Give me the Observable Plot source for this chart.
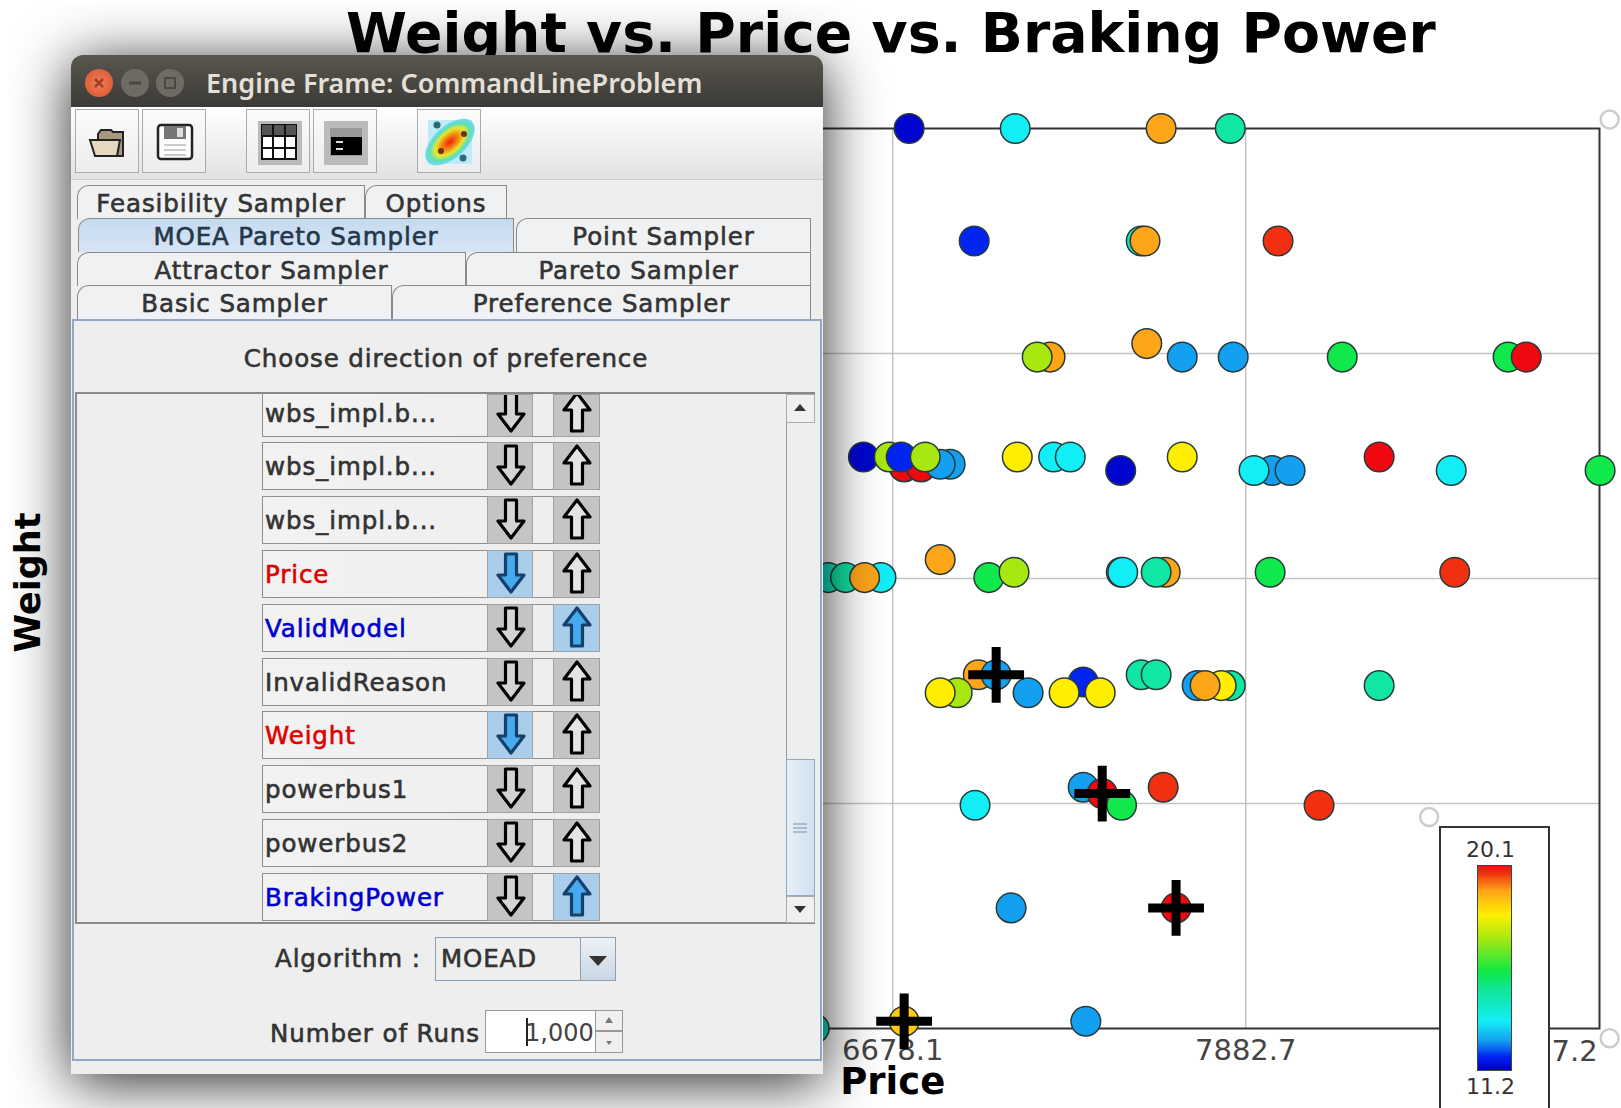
<!DOCTYPE html>
<html>
<head>
<meta charset="utf-8">
<script src="https://cdn.jsdelivr.net/npm/d3@7"></script>
<script src="https://cdn.jsdelivr.net/npm/@observablehq/plot@0.6"></script>
<style>
html,body{margin:0;padding:0;background:#fff;width:1621px;height:1108px;overflow:hidden}
svg{overflow:visible}
.a{position:absolute;box-sizing:border-box}
.t{position:absolute;white-space:nowrap;transform:translate(-50%,-50%);font-family:"DejaVu Sans",sans-serif;color:#333;-webkit-text-stroke:.6px currentColor;letter-spacing:.9px}
.l{transform:translate(0,-50%)}
</style>
</head>
<body>
<script>
// ---- chart data ----
const chartTitle = "Weight vs. Price vs. Braking Power";
const priceTicks = [6678.1, 7882.7];
const priceEndTick = [9087.2];
const weightGrid = [25, 50, 75];
const priceDomain = [5476, 9090];
const weightDomain = [0, 100];
const brakingDomain = [11.2, 20.1];
const jetStops = [11.2, 11.73, 12.45, 13.3, 14.58, 15.47, 16.9, 17.93, 18.94, 19.74, 20.1];
const jetColors = ["#0000c8", "#0020f0", "#14a0f0", "#12eef6", "#10e6a0", "#10e844", "#a8e810", "#ffee00", "#ffa518", "#f03010", "#f00810"];

const prices = [
  6734, 7096, 7594, 7830,
  6956, 7526, 7539, 7993,
  7215, 7171, 7545, 7666, 7840, 8212, 8778, 8840,
  6717, 6775, 6874, 6840, 6578, 6666, 6707, 6789, 7103, 7227, 7284, 7456, 7666, 7973, 7911, 8034, 8338, 8584, 9092,
  6458, 6517, 6638, 6582, 6840, 7006, 7092, 7458, 7463, 7608, 7577, 7966, 8596,
  6970, 7031, 6898, 6840, 7140, 7328, 7263, 7386, 7526, 7577, 7830, 7717, 7799, 7744, 8338,
  6959, 7328, 7393, 7459, 7601, 8133,
  7082, 7645,
  6410, 6717, 7337
];
const weights = [
  100, 100, 100, 100,
  87.5, 87.5, 87.5, 87.5,
  74.6, 74.6, 76.1, 74.6, 74.6, 74.6, 74.6, 74.6,
  62.4, 62.4, 62.7, 62.7, 63.5, 63.5, 63.5, 63.5, 63.5, 63.5, 63.5, 62, 63.5, 62, 62, 62, 63.5, 62, 62,
  50.1, 50.1, 50.1, 50.1, 52.1, 50.1, 50.7, 50.7, 50.7, 50.7, 50.7, 50.7, 50.7,
  39.3, 39.3, 37.3, 37.3, 37.3, 38.5, 37.3, 37.3, 39.3, 39.3, 38.1, 38.1, 38.1, 38.1, 38.1,
  24.8, 26.8, 26.1, 24.8, 26.8, 24.8,
  13.4, 13.4,
  0, 0.8, 0.8
];
const braking = [
  11.3, 13.3, 18.94, 14.5,
  11.75, 14.3, 18.94, 19.74,
  18.94, 16.9, 18.94, 12.45, 12.45, 15.4, 15.4, 20.1,
  20.1, 20.1, 12.45, 12.45, 11.3, 16.9, 11.75, 16.9, 17.93, 13.3, 13.3, 11.3, 17.93, 12.45, 13.3, 12.45, 20.1, 13.3, 15.4,
  14.0, 14.5, 13.3, 18.94, 18.94, 15.4, 16.9, 14.3, 13.3, 18.94, 14.5, 15.4, 19.74,
  18.94, 12.45, 16.9, 17.93, 12.45, 11.75, 17.93, 17.93, 14.5, 14.5, 14.5, 12.45, 17.93, 18.94, 14.5,
  13.3, 12.45, 20.1, 15.4, 19.74, 19.74,
  12.45, 20.1,
  14.0, 18.4, 12.45
];
const selectedPrice = [7031, 7393, 7645, 6717];
const selectedWeight = [39.3, 26.1, 13.4, 0.8];
const handlePrice = [9124.5, 8508.6, 9124.5];
const handleWeight = [101, 23.5, -1.08];

// ---- window texts ----
const windowTitle = "Engine Frame: CommandLineProblem";
const tabNames = ["Feasibility Sampler", "Options", "MOEA Pareto Sampler", "Point Sampler", "Attractor Sampler", "Pareto Sampler", "Basic Sampler", "Preference Sampler"];
const paramNames = ["wbs_impl.b...", "wbs_impl.b...", "wbs_impl.b...", "Price", "ValidModel", "InvalidReason", "Weight", "powerbus1", "powerbus2", "BrakingPower"];
const paramDirection = ["", "", "", "down", "up", "", "down", "", "", "up"];

// ---- main chart ----
const rows = prices.map((p, i) => ({p, w: weights[i], b: braking[i]}));
const selected = selectedPrice.map((p, i) => ({p, w: selectedWeight[i]}));
const handles = handlePrice.map((p, i) => ({p, w: handleWeight[i]}));
const colorScale = {type: "linear", domain: jetStops, range: jetColors};
const F = "DejaVu Sans, sans-serif";

const chart = Plot.plot({
  width: 1621, height: 1108,
  marginLeft: 540, marginRight: 22, marginTop: 128, marginBottom: 80,
  x: {domain: priceDomain, axis: null},
  y: {domain: weightDomain, axis: null},
  color: colorScale,
  style: {position: "absolute", left: 0, top: 0, background: "transparent", maxWidth: "none", fontFamily: F},
  marks: [
    Plot.gridX(priceTicks, {stroke: "#c4c4c4", strokeOpacity: 1, strokeWidth: 1.5}),
    Plot.gridY(weightGrid, {stroke: "#c4c4c4", strokeOpacity: 1, strokeWidth: 1.5}),
    Plot.frame({stroke: "#333", strokeWidth: 2}),
    Plot.axisX({ticks: priceTicks, tickFormat: d => d.toFixed(1), tickSize: 0, tickPadding: 11, fontSize: 29, label: null, fill: "#444"}),
    Plot.text(priceEndTick, {x: d => d, frameAnchor: "bottom", dy: 23, dx: -1, text: d => d.toFixed(1), textAnchor: "end", fontSize: 29, fill: "#444", lineAnchor: "middle"}),
    Plot.text(["Price"], {x: () => priceTicks[0], frameAnchor: "bottom", dy: 54, text: d => d, fontSize: 37, fontWeight: "bold", fill: "#000", lineAnchor: "middle"}),
    Plot.text(["Weight"], {frameAnchor: "left", textAnchor: "middle", dx: -512, dy: 4, rotate: -90, text: d => d, fontSize: 35, fontWeight: "bold", fill: "#000"}),
    Plot.dot(handles, {x: "p", y: "w", r: 9, fill: "none", stroke: "#ccc", strokeWidth: 2.5}),
    Plot.dot(rows, {x: "p", y: "w", r: 14.8, fill: "b", stroke: "#2a3a3a", strokeWidth: 1.5}),
    Plot.dot(selected, {x: "p", y: "w", r: 18, symbol: "plus", fill: "none", stroke: "#000", strokeWidth: 9})
  ]
});
document.body.appendChild(chart);

// ---- title ----
const titleDiv = document.createElement("div");
titleDiv.className = "a";
titleDiv.textContent = chartTitle;
titleDiv.style.cssText += `left:346px;top:0;font:bold 55.3px/66px ${F};color:#000;white-space:nowrap`;
document.body.appendChild(titleDiv);

// ---- colour legend ----
const ramp = d3.range(brakingDomain[0], brakingDomain[1], 0.04);
const legendBox = document.createElement("div");
legendBox.className = "a";
legendBox.style.cssText += "left:1439px;top:826px;width:111px;height:282px;background:#fff;border:2px solid #333;border-bottom:none";
legendBox.appendChild(Plot.plot({
  width: 107, height: 280,
  marginLeft: 36, marginRight: 37, marginTop: 37, marginBottom: 38,
  x: {domain: [0, 1], axis: null},
  y: {domain: brakingDomain, axis: null},
  color: colorScale,
  style: {background: "transparent", maxWidth: "none", fontFamily: F, display: "block"},
  marks: [
    Plot.rect(ramp, {x1: () => 0, x2: () => 1, y1: d => d, y2: d => Math.min(d + 0.06, brakingDomain[1]), fill: d => d, shapeRendering: "crispEdges"}),
    Plot.frame({stroke: "#444", strokeWidth: 1}),
    Plot.text([brakingDomain[1]], {x: () => 0.5, y: d => d, dy: -16, dx: -4, text: d => d.toFixed(1), fontSize: 22, fill: "#333"}),
    Plot.text([brakingDomain[0]], {x: () => 0.5, y: d => d, dy: 16, dx: -4, text: d => d.toFixed(1), fontSize: 22, fill: "#333"})
  ]
}));
document.body.appendChild(legendBox);

// ---- the application window over the chart ----
function box(x, y, w, h, css, html) {
  const e = document.createElement("div");
  e.className = "a";
  e.style.cssText += `left:${x}px;top:${y}px;width:${w}px;height:${h}px;${css || ""}`;
  if (html) e.innerHTML = html;
  document.body.appendChild(e);
  return e;
}
function text(s, x, y, size, css, left) {
  const e = document.createElement("div");
  e.className = left ? "t l" : "t";
  e.textContent = s;
  e.style.cssText += `left:${x}px;top:${y}px;font-size:${size}px;${css || ""}`;
  document.body.appendChild(e);
  return e;
}
// window body with shadow
box(71, 55, 752, 1019, "background:#eee;border-radius:12px 12px 0 0;box-shadow:0 8px 58px rgba(0,0,0,.85)");
// screenshot's white edge strips, cut through the shadow
box(0, 0, 8, 1108, "background:#fff");
box(0, 0, 1621, 3, "background:#fff");
// title bar
box(71, 55, 752, 52, "background:linear-gradient(#5a564f,#3b3a36);border-radius:12px 12px 0 0");
box(85, 69, 28, 28, "border-radius:50%;background:radial-gradient(#f0805a,#d8502c)", `<svg width="28" height="28"><path d="M10 10L18 18M18 10L10 18" stroke="#a04020" stroke-width="2.5"/></svg>`);
box(121, 69, 28, 28, "border-radius:50%;background:#6e6b64", `<svg width="28" height="28"><path d="M8 14H20" stroke="#4a4842" stroke-width="3"/></svg>`);
box(156, 69, 28, 28, "border-radius:50%;background:#6e6b64", `<svg width="28" height="28"><rect x="9" y="9" width="10" height="10" fill="none" stroke="#4a4842" stroke-width="2"/></svg>`);
text(windowTitle, 206, 82, 27, `color:#e4e0d8;font-family:'Noto Sans';font-weight:600;-webkit-text-stroke:0;letter-spacing:0`, true);
// toolbar
box(71, 107, 752, 73, "background:linear-gradient(#fff,#e2e2e2);border-bottom:1px solid #ccc");
const toolIcons = [
  `<svg width="64" height="64" viewBox="0 0 64 64"><path d="M22 24l3-4h10l2 2h10v24H22z" fill="#a89880" stroke="#222" stroke-width="2"/><path d="M14 30H44l-3 16H19z" fill="#e6d8c0" stroke="#222" stroke-width="2"/></svg>`,
  `<svg width="64" height="64" viewBox="0 0 64 64"><rect x="15" y="15" width="34" height="34" rx="3" fill="#fff" stroke="#222" stroke-width="2.5"/><rect x="21" y="16" width="22" height="13" fill="#777"/><rect x="34" y="18" width="6" height="9" fill="#ddd"/><path d="M21 35H43M21 40H43M21 45H43" stroke="#999"/></svg>`,
  `<svg width="64" height="64" viewBox="0 0 64 64"><rect x="11" y="11" width="44" height="44" fill="#bbb"/><rect x="15" y="15" width="34" height="34" fill="#fff" stroke="#111" stroke-width="2"/><rect x="15" y="15" width="34" height="11" fill="#555"/><path d="M15 26H49M15 38H49M26 15V49M38 15V49" stroke="#111" stroke-width="2"/></svg>`,
  `<svg width="64" height="64" viewBox="0 0 64 64"><rect x="10" y="11" width="44" height="44" fill="#bbb"/><rect x="16" y="18" width="32" height="28" fill="#999"/><rect x="17" y="27" width="31" height="18" fill="#000"/><path d="M22 32H29M22 39H29" stroke="#ddd" stroke-width="2"/></svg>`,
  `<svg width="64" height="64" viewBox="0 0 64 64"><defs><radialGradient id="hm"><stop offset="0" stop-color="#f02010"/><stop offset=".35" stop-color="#f09010"/><stop offset=".6" stop-color="#e8e830"/><stop offset=".8" stop-color="#60e0b0"/><stop offset="1" stop-color="#70d8f8"/></radialGradient></defs><rect x="10" y="10" width="44" height="44" fill="#bfeaf8"/><ellipse cx="32" cy="32" rx="30" ry="16" transform="rotate(-42 32 32)" fill="url(#hm)"/><circle cx="19" cy="15" r="3.5" fill="#2a6a70"/><circle cx="45" cy="48" r="3.5" fill="#2a6a80"/><circle cx="46" cy="24" r="3" fill="#703020"/><circle cx="23" cy="41" r="3" fill="#703020"/></svg>`
];
[75, 142, 246, 313, 417].forEach((x, i) => box(x, 109, 64, 64, "border:1.5px solid #aaa;background:linear-gradient(#fbfbfb,#ededed)", toolIcons[i]));
// tabs
const tabBoxes = [[77, 185, 288, 34], [365, 185, 142, 34], [78, 218, 436, 34], [516, 218, 295, 34], [77, 252, 389, 34], [466, 252, 345, 34], [77, 285, 315, 34], [392, 285, 419, 34]];
tabBoxes.forEach((b, i) => {
  const active = i === 2;
  box(b[0], b[1], b[2], b[3], `border:1.5px solid #8a8a8a;border-bottom:none;border-radius:12px 0 0 0;background:${active ? "linear-gradient(#c6daf0,#d6e5f5)" : "#eff1f3"}`);
  text(tabNames[i], b[0] + b[2] / 2, b[1] + 18, 24.5, active ? "color:#25374a" : "");
});
// panel
box(72, 319, 750, 742, "border:2px solid #90a8c8;background:#eee");
text("Choose direction of preference", 446, 358, 24.5);
box(75, 392, 740, 532, "border:2px solid #8a8a8a;background:#eee");
const arrowSvg = (dir, on) => `<svg width="46" height="46" viewBox="0 0 46 46" style="display:block"><path d="M23 4 L36 21 H28.5 V42 H17.5 V21 H10 Z" transform="${dir === "down" ? "rotate(180 23 23)" : ""}" fill="${on ? "#46aaee" : (dir === "down" ? "#d4d4d4" : "#e4e4e4")}" stroke="${on ? "#16406a" : "#000"}" stroke-width="3.2" stroke-linejoin="round"/></svg>`;
paramNames.forEach((name, i) => {
  const c = 412.5 + 53.8 * i;
  const top = Math.max(c - 24, 394);
  const dir = paramDirection[i];
  const h = c + 24 - top;
  box(261.5, top, 338.5, h, "border:1.5px solid #8f8f8f;border-top:" + (i ? "1.5px solid #8f8f8f" : "none") + ";background:linear-gradient(90deg,#f2f2f2,#eee)");
  text(name, 265, c, 24.5, dir === "down" ? "color:#e00000" : dir === "up" ? "color:#0000cc" : "", true);
  const clipY = Math.max(0, top - (c - 24));
  box(487, top, 46, h, `overflow:hidden;background:${dir === "down" ? "#aacdec" : "#c4c4c4"};border:1.5px solid #a0a0a0`, `<div style="margin-top:${-clipY - 1}px">${arrowSvg("down", dir === "down")}</div>`);
  box(553, top, 47, h, `overflow:hidden;background:${dir === "up" ? "#aacdec" : "#c4c4c4"};border:1.5px solid #a0a0a0`, `<div style="margin-top:${-clipY - 1}px">${arrowSvg("up", dir === "up")}</div>`);
});
// scrollbar
box(786, 394, 29, 529, "background:#eee;border-left:1.5px solid #999");
box(786, 394, 29, 29, "background:#f0f0f0;border:1.5px solid #aaa", `<svg width="26" height="26"><path d="M7 16L13 9L19 16Z" fill="#333"/></svg>`);
box(786, 759, 29, 137, "background:linear-gradient(90deg,#e8f0f8,#cfe0f0);border:1.5px solid #90a8c0", `<svg width="26" height="134"><path d="M6 64H20M6 68H20M6 72H20" stroke="#7f8fa0" stroke-width="1"/></svg>`);
box(786, 896, 29, 27, "background:#f0f0f0;border:1.5px solid #aaa", `<svg width="26" height="24"><path d="M7 9L13 16L19 9Z" fill="#333"/></svg>`);
// algorithm
text("Algorithm :", 275, 958, 24.5, "", true);
box(435, 937, 181, 44, "background:#eee;border:1.5px solid #8fa0b5");
text("MOEAD", 441, 958, 24.5, "", true);
box(580, 938, 35, 42, "background:linear-gradient(#eef2f6,#c8d6e4);border-left:1.5px solid #8fa0b5", `<svg width="34" height="42"><path d="M8 18H26L17 28Z" fill="#333"/></svg>`);
// number of runs
text("Number of Runs", 270, 1033, 24.5, "", true);
box(485, 1010, 138, 43, "background:#fff;border:1.5px solid #999");
text("1,000", 525, 1033, 24, "color:#444;-webkit-text-stroke:0;letter-spacing:0", true);
box(526, 1018, 2, 28, "background:#222");
box(595, 1010, 28, 21, "background:#f0f0f0;border:1.5px solid #999", `<svg width="25" height="18"><path d="M9 12L13 6L17 12Z" fill="#777"/></svg>`);
box(595, 1031, 28, 22, "background:#f0f0f0;border:1.5px solid #999", `<svg width="25" height="18"><path d="M10 9L13 13L16 9Z" fill="#777"/></svg>`);
</script>
</body>
</html>
